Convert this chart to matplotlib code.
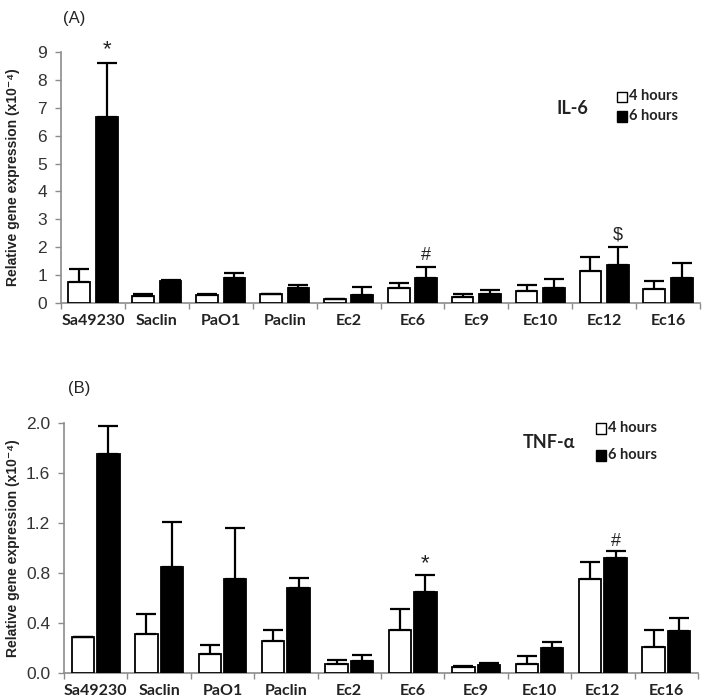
"""IL-6 / TNF-alpha relative gene expression at 4 h and 6 h, two stacked bar panels."""
import matplotlib

matplotlib.use("Agg")
import matplotlib.pyplot as plt
import numpy as np

strains = ["Sa49230", "Saclin", "PaO1", "Paclin", "Ec2", "Ec6", "Ec9", "Ec10", "Ec12", "Ec16"]

# Panel A: IL-6 (x10^-4)
il6_4h = [0.73, 0.23, 0.28, 0.30, 0.12, 0.52, 0.22, 0.42, 1.14, 0.48]
il6_4h_err = [0.47, 0.08, 0.02, 0.0, 0.0, 0.20, 0.09, 0.21, 0.51, 0.30]
il6_6h = [6.69, 0.78, 0.90, 0.52, 0.29, 0.90, 0.32, 0.54, 1.35, 0.90]
il6_6h_err = [1.92, 0.03, 0.18, 0.11, 0.29, 0.40, 0.15, 0.30, 0.66, 0.54]
il6_marks = {0: "*", 5: "#", 8: "$"}

# Panel B: TNF-alpha (x10^-4)
tnf_4h = [0.289, 0.31, 0.15, 0.254, 0.07, 0.345, 0.046, 0.07, 0.75, 0.21]
tnf_4h_err = [0.0, 0.16, 0.07, 0.086, 0.03, 0.165, 0.008, 0.06, 0.135, 0.13]
tnf_6h = [1.756, 0.85, 0.75, 0.68, 0.094, 0.645, 0.06, 0.196, 0.917, 0.334]
tnf_6h_err = [0.224, 0.36, 0.41, 0.077, 0.046, 0.135, 0.02, 0.054, 0.057, 0.106]
tnf_marks = {5: "*", 8: "#"}

AX_GREY = "#8c8c8c"
TXT = "#222222"
LABEL_FONT = ["Lato", "DejaVu Sans"]
NUM_FONT = ["Liberation Sans", "DejaVu Sans"]


def draw_panel(ax, v4, e4, v6, e6, marks, ymax, yticks, ytick_fmt, width, offset, mark_pad):
    x = np.arange(len(strains))
    err_kw = dict(ecolor="black", elinewidth=1.6, capsize=7, capthick=1.6)
    ax.bar(x - offset, v4, width, color="white", edgecolor="black", linewidth=1.3,
           yerr=[np.zeros(len(e4)), e4], error_kw=err_kw, zorder=3)
    ax.bar(x + offset, v6, width, color="black", edgecolor="black", linewidth=1.3,
           yerr=[np.zeros(len(e6)), e6], error_kw=err_kw, zorder=3)
    for i, sym in marks.items():
        ax.text(i + offset, v6[i] + e6[i] + mark_pad, sym, ha="center", va="bottom",
                fontsize=16 if sym == "*" else 13, family=NUM_FONT, color=TXT)

    ax.set_xlim(-0.5, len(strains) - 0.5)
    ax.set_ylim(0, ymax)
    ax.set_yticks(yticks)
    ax.set_yticklabels([ytick_fmt.format(t) for t in yticks], family=NUM_FONT,
                       fontsize=12.5, color="#333333")
    ax.set_xticks(x)
    ax.set_xticklabels(strains, family=LABEL_FONT, fontsize=11.5, fontweight="bold", color=TXT)
    ax.tick_params(axis="x", which="major", length=0, pad=8)
    ax.set_xticks(np.arange(len(strains) + 1) - 0.5, minor=True)
    ax.tick_params(axis="x", which="minor", length=4, color=AX_GREY, width=1)
    ax.tick_params(axis="y", length=4, color=AX_GREY, width=1, pad=6)
    for side in ("top", "right"):
        ax.spines[side].set_visible(False)
    for side in ("left", "bottom"):
        ax.spines[side].set_color(AX_GREY)
        ax.spines[side].set_linewidth(1.2)
    ax.set_ylabel("Relative gene expression (x10⁻⁴)", family=NUM_FONT, fontsize=10,
                  fontweight="bold", color=TXT)


def draw_legend(fig, title, tx, ty, lx, ly4, ly6):
    fig.text(tx, ty, title, family=LABEL_FONT, fontsize=13, fontweight="bold", color=TXT,
             ha="left", va="center")
    for y, face, lab in ((ly4, "white", "4 hours"), (ly6, "black", "6 hours")):
        fig.patches.append(plt.Rectangle((lx, y - 0.0085), 0.0145, 0.0155, transform=fig.transFigure,
                                         facecolor=face, edgecolor="black", linewidth=1.0))
        fig.text(lx + 0.017, y, lab, family=LABEL_FONT, fontsize=10.5, fontweight="bold",
                 color=TXT, ha="left", va="center")


fig = plt.figure(figsize=(7.08, 6.98), dpi=100)

ax_a = fig.add_axes([61 / 708, 1 - 302.7 / 698, 639 / 708, 250.4 / 698])
draw_panel(ax_a, il6_4h, il6_4h_err, il6_6h, il6_6h_err, il6_marks, 9, list(range(10)),
           "{:d}", 0.34, 0.215, 0.1)
ax_a.yaxis.set_label_coords(-0.064, 0.5)
fig.text(63 / 708, 1 - 19 / 698, "(A)", family=NUM_FONT, fontsize=12, color=TXT, ha="left", va="center")
draw_legend(fig, "IL-6", 557 / 708, 1 - 108 / 698, 617 / 708, 1 - 96.5 / 698, 1 - 116 / 698)

ax_b = fig.add_axes([64 / 708, 1 - 672.7 / 698, 634 / 708, 249.4 / 698])
draw_panel(ax_b, tnf_4h, tnf_4h_err, tnf_6h, tnf_6h_err, tnf_marks, 2.0,
           [0.0, 0.4, 0.8, 1.2, 1.6, 2.0], "{:.1f}", 0.355, 0.2, 0.01)
ax_b.yaxis.set_label_coords(-0.07, 0.5)
fig.text(68 / 708, 1 - 388 / 698, "(B)", family=NUM_FONT, fontsize=12, color=TXT, ha="left", va="center")
draw_legend(fig, "TNF-α", 523 / 708, 1 - 443 / 698, 596 / 708, 1 - 428 / 698, 1 - 455 / 698)

fig.savefig("out.png", dpi=100, facecolor="white")
